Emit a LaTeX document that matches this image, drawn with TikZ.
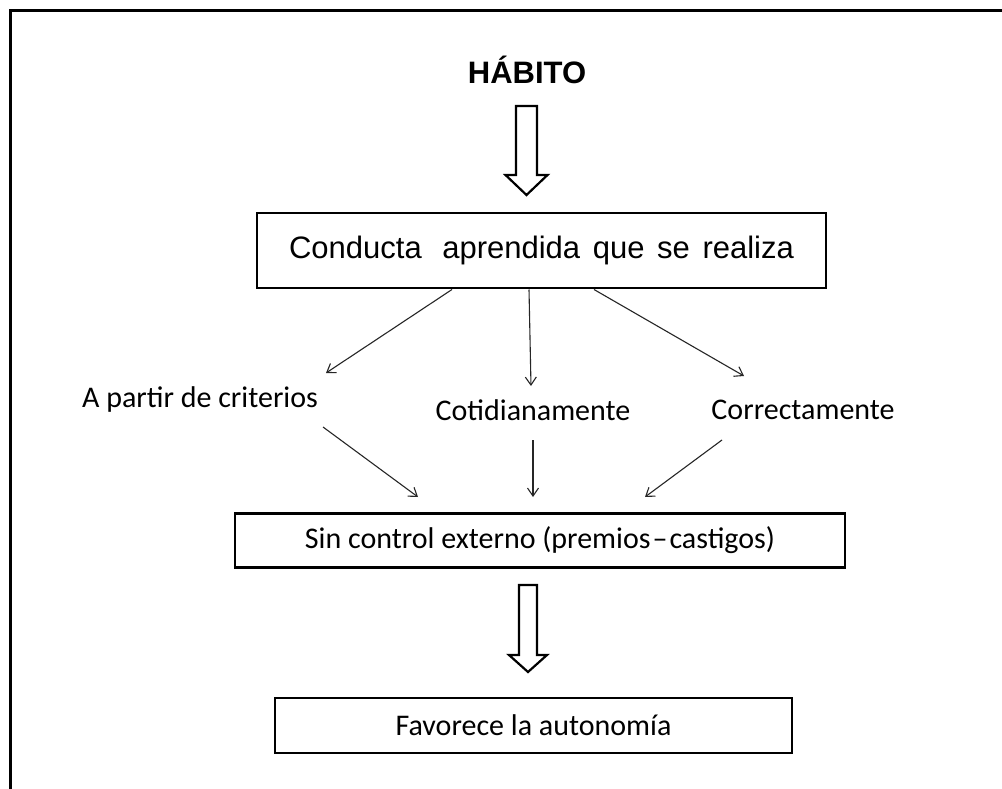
\documentclass[tikz,border=0pt]{standalone}
\usepackage{fontspec}
\setmainfont{Liberation Sans}
\newfontfamily\calib{Carlito}
\usetikzlibrary{arrows.meta,calc}
\begin{document}
\begin{tikzpicture}[x=1pt,y=-1pt,
  boxnode/.style={draw,line width=2.8pt,inner sep=0pt,align=center},
  thinarr/.style={line width=1.1pt,draw=black!85,-{Straight Barb[length=8pt,width=11pt,line width=1.1pt]}},
  hollow/.style={draw,line width=2.2pt,fill=white,line join=miter},
  calibtext/.style={font=\calib\fontsize{30}{36}\selectfont,inner sep=0pt},
  arialtext/.style={font=\fontsize{31}{36}\selectfont}]
\useasboundingbox (0,0) rectangle (1002,789);
\fill[white] (0,0) rectangle (1002,789);
% frame
\draw[line width=3pt] (10,789) -- (10,11) -- (1002,11);
% title
\node[font=\bfseries\fontsize{31}{36}\selectfont,inner sep=0pt] (hab) at (527,70) {HÁBITO};
% hollow arrow 1
\coordinate (h1) at (526.5,106);
\draw[hollow] (h1) ++(-10.5,0) -- ++(21,0) -- ++(0,69) -- ++(10.5,0) -- (526.5,195) -- (505.5,175) -- ++(10.5,0) -- cycle;
% box 1
\node[boxnode,minimum width=569pt,minimum height=75pt,arialtext] (c) at (541.5,250.5) {Conducta\hspace{12pt} aprendida\hspace{4pt} que\hspace{4pt} se\hspace{4pt} realiza};
% labels
\node[calibtext] (a) at (200,399) {A partir de criterios};
\node[calibtext] (b) at (533,410) {Cotidianamente};
\node[calibtext] (d) at (803,410) {Correctamente};
% upper arrows
\coordinate (u1s) at (452,289.5);
\coordinate (u1e) at (326,373);
\coordinate (u2s) at (529,289.5);
\coordinate (u2e) at (531,386);
\coordinate (u3s) at (594,289.5);
\coordinate (u3e) at (744,376);
\draw[thinarr] (u1s) -- (u1e);
\draw[thinarr] (u2s) -- (u2e);
\draw[thinarr] (u3s) -- (u3e);
% box 2
\node[boxnode,minimum width=610pt,minimum height=54pt,calibtext] (s) at (540,540.5) {Sin control externo (premios\hspace{2pt}–\hspace{2pt}castigos)};
% lower arrows
\coordinate (l1s) at (323,427);
\coordinate (l1e) at (418,497);
\coordinate (l2s) at (533,440);
\coordinate (l2e) at (533,497);
\coordinate (l3s) at (722,440);
\coordinate (l3e) at (645,497);
\draw[thinarr] (l1s) -- (l1e);
\draw[thinarr] (l2s) -- (l2e);
\draw[thinarr] (l3s) -- (l3e);
% hollow arrow 2
\coordinate (h2) at (528,585);
\draw[hollow] (h2) ++(-9,0) -- ++(18,0) -- ++(0,70) -- ++(10,0) -- (528,672) -- (509,655) -- ++(10,0) -- cycle;
% box 3
\node[boxnode,minimum width=517pt,minimum height=55pt,calibtext] (f) at (533.5,725.5) {Favorece la autonomía};
\end{tikzpicture}
\end{document}
